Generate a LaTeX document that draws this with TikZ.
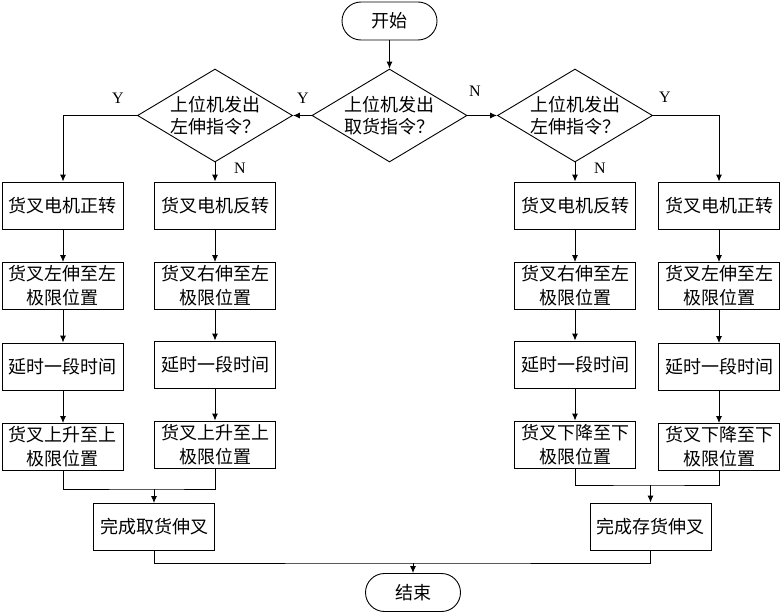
\documentclass[tikz,border=0pt]{standalone}
\usepackage{fontspec}
\setmainfont{Liberation Serif}
\newfontfamily\cjk{Noto Sans CJK SC}
\usetikzlibrary{shapes.geometric,arrows.meta}
\begin{document}
\begin{tikzpicture}[x=1pt,y=-1pt,
  every node/.style={inner sep=0pt},
  box/.style={draw, line width=0.9pt, minimum width=121pt, minimum height=47pt, align=center, font=\cjk\fontsize{18}{24}\selectfont},
  term/.style={draw, line width=0.9pt, rounded corners=19pt, minimum width=95pt, minimum height=38pt, font=\cjk\fontsize{18}{22}\selectfont},
  dec/.style={draw, diamond, line width=0.9pt, minimum width=155pt, minimum height=93pt},
  dtext/.style={align=center, font=\cjk\fontsize{18}{22}\selectfont},
  lab/.style={font=\fontsize{16}{16}\selectfont},
  arr/.style={-{Latex[length=7pt,width=6pt]}, line width=0.9pt},
  ln/.style={line width=0.9pt}
]
\useasboundingbox (0,0) rectangle (782,613);

\node[term] (start) at (389.5,21) {开始};
\node[dec, label={[dtext]center:上位机发出\\取货指令？}] (d0) at (389.5,115.5) {};
\node[dec, label={[dtext]center:上位机发出\\左伸指令？}] (dl) at (215,115.5) {};
\node[dec, label={[dtext]center:上位机发出\\左伸指令？}] (dr) at (575,115.5) {};

\node[box] (a1) at (63,205.5) {货叉电机正转};
\node[box] (a2) at (63,286) {货叉左伸至左\\极限位置};
\node[box] (a3) at (63,366.5) {延时一段时间};
\node[box] (a4) at (63,447) {货叉上升至上\\极限位置};

\node[box] (b1) at (215,205.5) {货叉电机反转};
\node[box] (b2) at (215,286) {货叉右伸至左\\极限位置};
\node[box] (b3) at (215,364.5) {延时一段时间};
\node[box] (b4) at (215,444.5) {货叉上升至上\\极限位置};

\node[box] (c1) at (575,205.5) {货叉电机反转};
\node[box] (c2) at (575,286) {货叉右伸至左\\极限位置};
\node[box] (c3) at (575,364.5) {延时一段时间};
\node[box] (c4) at (575,444.5) {货叉下降至下\\极限位置};

\node[box] (e1) at (719,205.5) {货叉电机正转};
\node[box] (e2) at (719,286) {货叉左伸至左\\极限位置};
\node[box] (e3) at (719,367) {延时一段时间};
\node[box] (e4) at (719,447) {货叉下降至下\\极限位置};

\node[box] (f1) at (154,527) {完成取货伸叉};
\node[box] (f2) at (650.5,526.5) {完成存货伸叉};

\node[term] (end) at (413,592.5) {结束};

\node[lab] (y1) at (118,98) {Y};
\node[lab] (y2) at (303,98) {Y};
\node[lab] (n1) at (475,91) {N};
\node[lab] (n2) at (240,168) {N};
\node[lab] (n3) at (600,168) {N};
\node[lab] (y3) at (665,97) {Y};

\draw[arr] (start.south) -- (d0.north);
\draw[arr] (d0.west) -- (dl.east);
\draw[arr] (d0.east) -- (dr.west);
\draw[arr] (dl.west) -| (a1.north);
\draw[arr] (dl.south) -- (b1.north);
\draw[arr] (dr.south) -- (c1.north);
\draw[arr] (dr.east) -| (e1.north);

\draw[arr] (a1) -- (a2);
\draw[arr] (a2) -- (a3);
\draw[arr] (a3) -- (a4);
\draw[arr] (b1) -- (b2);
\draw[arr] (b2) -- (b3);
\draw[arr] (b3) -- (b4);
\draw[arr] (c1) -- (c2);
\draw[arr] (c2) -- (c3);
\draw[arr] (c3) -- (c4);
\draw[arr] (e1) -- (e2);
\draw[arr] (e2) -- (e3);
\draw[arr] (e3) -- (e4);

\coordinate (m1) at (154,489);
\coordinate (m2) at (650.5,485);
\coordinate (m3) at (413,563);
\draw[ln] (a4.south) |- (m1) -| (b4.south);
\draw[arr] (m1) -- (f1.north);
\draw[ln] (c4.south) |- (m2) -| (e4.south);
\draw[arr] (m2) -- (f2.north);
\draw[ln] (f1.south) |- (m3) -| (f2.south);
\draw[arr] (m3) -- (end.north);
\end{tikzpicture}
\end{document}
